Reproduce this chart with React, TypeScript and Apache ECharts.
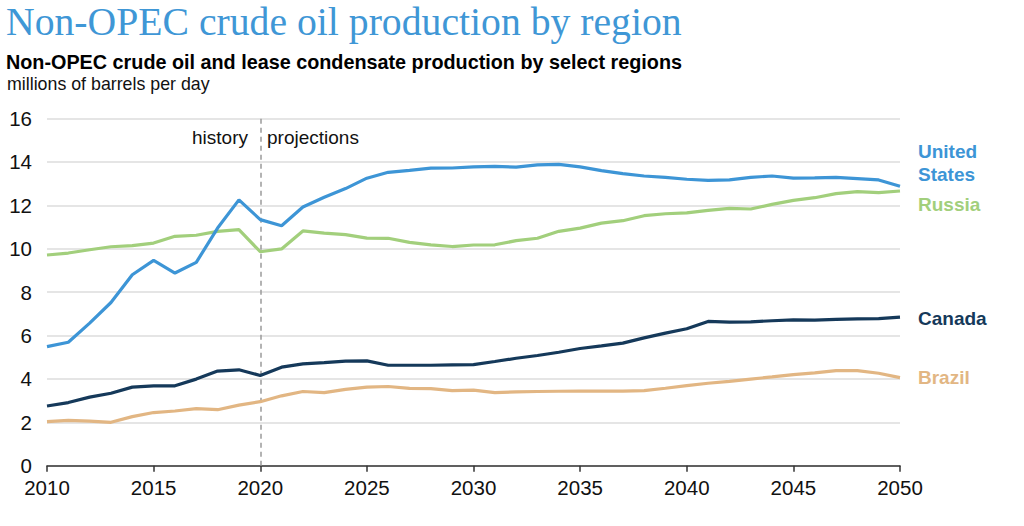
import React, { useEffect, useRef } from "react";
import * as echarts from "echarts";

const years: number[] = [
  2010, 2011, 2012, 2013, 2014, 2015, 2016, 2017, 2018, 2019, 2020, 2021, 2022, 2023,
  2024, 2025, 2026, 2027, 2028, 2029, 2030, 2031, 2032, 2033, 2034, 2035, 2036, 2037,
  2038, 2039, 2040, 2041, 2042, 2043, 2044, 2045, 2046, 2047, 2048, 2049, 2050,
];

const unitedStates: number[] = [
  5.49, 5.69, 6.57, 7.52, 8.8, 9.46, 8.88, 9.37, 10.95, 12.25, 11.34, 11.06, 11.92, 12.37,
  12.77, 13.25, 13.52, 13.61, 13.71, 13.72, 13.77, 13.79, 13.76, 13.86, 13.89, 13.77, 13.6,
  13.46, 13.35, 13.29, 13.2, 13.15, 13.17, 13.29, 13.35, 13.25, 13.26, 13.29, 13.23, 13.17, 12.88,
];

const russia: number[] = [
  9.71, 9.8, 9.95, 10.09, 10.14, 10.26, 10.57, 10.62, 10.8, 10.88, 9.86, 9.99, 10.82, 10.72,
  10.65, 10.49, 10.48, 10.29, 10.18, 10.1, 10.17, 10.18, 10.37, 10.48, 10.8, 10.95, 11.18,
  11.29, 11.52, 11.61, 11.65, 11.77, 11.86, 11.83, 12.04, 12.23, 12.35, 12.54, 12.63, 12.58, 12.66,
];

const canada: number[] = [
  2.75, 2.91, 3.16, 3.34, 3.62, 3.68, 3.68, 3.99, 4.36, 4.42, 4.16, 4.54, 4.69, 4.75,
  4.82, 4.83, 4.63, 4.63, 4.63, 4.65, 4.66, 4.8, 4.95, 5.08, 5.23, 5.4, 5.52, 5.65,
  5.89, 6.11, 6.31, 6.65, 6.62, 6.63, 6.68, 6.72, 6.71, 6.74, 6.77, 6.78, 6.85,
];

const brazil: number[] = [
  2.03, 2.09, 2.05, 2.0, 2.26, 2.45, 2.52, 2.63, 2.58, 2.79, 2.95, 3.22, 3.42, 3.37,
  3.52, 3.62, 3.65, 3.56, 3.55, 3.46, 3.48, 3.37, 3.4, 3.42, 3.43, 3.44, 3.44, 3.44,
  3.46, 3.57, 3.69, 3.8, 3.89, 3.99, 4.09, 4.2, 4.28, 4.38, 4.38, 4.26, 4.06,
];

const seriesNames: string[] = ["United States", "Russia", "Canada", "Brazil"];
const projectionStart = 2020;

const COLORS = {
  us: "#3d95d6",
  russia: "#a2cf7c",
  canada: "#15395a",
  brazil: "#e2b683",
};

const FONT = "'Liberation Sans', Arial, Helvetica, sans-serif";

function pairs(vals: number[]): [number, number][] {
  return years.map((y, i) => [y, vals[i]]);
}

export default function App() {
  const ref = useRef<HTMLDivElement>(null);

  useEffect(() => {
    if (!ref.current) return;
    const chart = echarts.init(ref.current, null, { renderer: "svg" });

    const lineSeries = (name: string, vals: number[], color: string, extra: any = {}) => ({
      name,
      type: "line",
      data: pairs(vals),
      showSymbol: false,
      symbol: "none",
      lineStyle: { color, width: 3.2 },
      itemStyle: { color },
      z: 3,
      ...extra,
    });

    const endLabel = (text: string, y: number, color: string, extra: any = {}) => ({
      type: "text",
      x: 918,
      y,
      style: {
        text,
        fill: color,
        fontSize: 19,
        fontWeight: "bold",
        fontFamily: FONT,
        align: "left",
        verticalAlign: "middle",
        ...extra,
      },
    });

    chart.setOption({
      animation: false,
      backgroundColor: "#ffffff",
      textStyle: { fontFamily: FONT },
      grid: { left: 47, right: 124, top: 118.5, bottom: 60.3, containLabel: false },
      xAxis: {
        type: "value",
        min: 2010,
        max: 2050,
        interval: 5,
        axisLine: { show: true, lineStyle: { color: "#333333", width: 1.5 } },
        axisTick: { show: true, length: 6, lineStyle: { color: "#333333", width: 1.5 } },
        axisLabel: {
          color: "#111111",
          fontSize: 20.5,
          fontFamily: FONT,
          margin: 11,
          formatter: (v: number) => String(v),
        },
        splitLine: { show: false },
      },
      yAxis: {
        type: "value",
        min: 0,
        max: 16,
        interval: 2,
        axisLine: { show: false },
        axisTick: { show: false },
        axisLabel: { color: "#111111", fontSize: 20.5, fontFamily: FONT, margin: 15 },
        splitLine: { show: true, lineStyle: { color: "#dddddd", width: 1.5 } },
      },
      series: [
        lineSeries(seriesNames[3], brazil, COLORS.brazil, {
          markLine: {
            silent: true,
            symbol: "none",
            label: { show: false },
            lineStyle: { color: "#9a9a9a", type: [5, 4], width: 1.5 },
            data: [{ xAxis: projectionStart }],
            z: 1,
          },
        }),
        lineSeries(seriesNames[2], canada, COLORS.canada),
        lineSeries(seriesNames[1], russia, COLORS.russia),
        lineSeries(seriesNames[0], unitedStates, COLORS.us),
      ],
      graphic: [
        {
          type: "text",
          left: 6,
          top: 2,
          style: {
            text: "Non-OPEC crude oil production by region",
            fill: "#3f97d6",
            fontSize: 39.7,
            fontFamily: "'Liberation Serif', 'Times New Roman', serif",
          },
        },
        {
          type: "text",
          left: 6,
          top: 52,
          style: {
            text: "Non-OPEC crude oil and lease condensate production by select regions",
            fill: "#000000",
            fontSize: 19.8,
            fontWeight: "bold",
            fontFamily: FONT,
          },
        },
        {
          type: "text",
          left: 7,
          top: 74.5,
          style: {
            text: "millions of barrels per day",
            fill: "#111111",
            fontSize: 17.8,
            fontFamily: FONT,
          },
        },
        {
          type: "text",
          x: 248,
          y: 137.5,
          style: {
            text: "history",
            fill: "#111111",
            fontSize: 19,
            fontFamily: FONT,
            align: "right",
            verticalAlign: "middle",
          },
        },
        {
          type: "text",
          x: 267,
          y: 137.5,
          style: {
            text: "projections",
            fill: "#111111",
            fontSize: 19,
            fontFamily: FONT,
            align: "left",
            verticalAlign: "middle",
          },
        },
        endLabel("United\nStates", 163.3, COLORS.us, { lineHeight: 23.4 }),
        endLabel("Russia", 204, COLORS.russia),
        endLabel("Canada", 318.5, COLORS.canada),
        endLabel("Brazil", 377, COLORS.brazil),
      ],
    });

    return () => chart.dispose();
  }, []);

  return (
    <div
      ref={ref}
      style={{ position: "fixed", left: 0, top: 0, width: 1024, height: 526, background: "#fff" }}
    />
  );
}
